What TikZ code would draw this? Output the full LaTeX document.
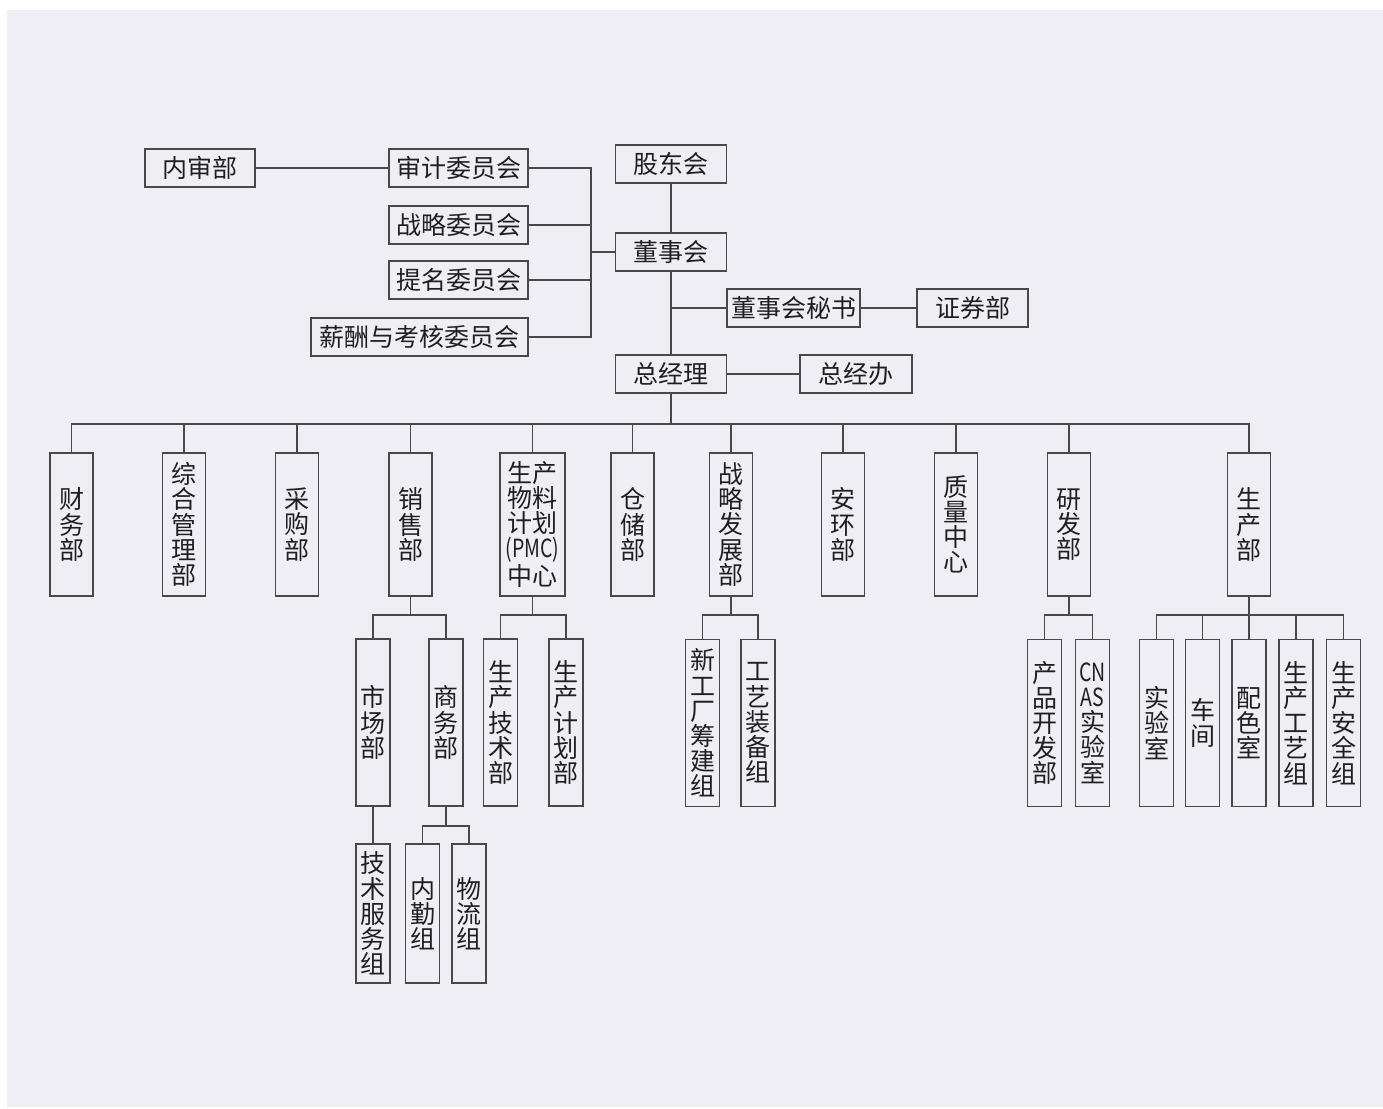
\documentclass[tikz,border=0pt]{standalone}
\usepackage{fontspec}
\setmainfont{Noto Sans CJK SC}
\usepackage{graphicx}
\usetikzlibrary{positioning}
\definecolor{bg}{RGB}{240,238,245}
\definecolor{linegray}{RGB}{72,72,72}
\newcommand{\narrow}[1]{\scalebox{0.78}[1]{#1}}
\tikzstyle{org}=[
  x=0.5pt,y=-0.5pt,font=\fontsize{12.5}{12.6}\selectfont,text=black!88
]
\tikzstyle{box}=[
  draw=linegray,line width=0.75pt,fill=bg,inner sep=0pt,align=center
]
\tikzstyle{hbox}=[
  box,minimum height=19pt
]
\tikzstyle{dept}=[
  box,minimum width=21.5pt,minimum height=71.5pt
]
\tikzstyle{subdept}=[
  box,minimum width=17pt,minimum height=83.5pt
]
\tikzstyle{team}=[
  box,minimum width=17pt,minimum height=69.5pt
]
\tikzstyle{link}=[
  draw=linegray,line width=0.75pt
]

\begin{document}
\begin{tikzpicture}[org]
  \useasboundingbox (0,0) rectangle (1383,1109);
  \fill [white] (0,0) rectangle (1383,1109);
  \fill [bg] (7,10) rectangle (1383,1107);

  % board and committees
  \node (gdh) at (671,164) [hbox,minimum width=55.5pt] {股东会};
  \node (dsh) at (671,252) [hbox,minimum width=55.5pt] {董事会};
  \node (dms) at (793.5,308) [hbox,minimum width=66.5pt] {董事会秘书};
  \node (zqb) at (972.5,308) [hbox,minimum width=55.5pt] {证券部};
  \node (zjl) at (671,374) [hbox,minimum width=55.5pt] {总经理};
  \node (zjb) at (856,374) [hbox,minimum width=56pt] {总经办};
  \node (nsb) at (200,168) [hbox,minimum width=55pt] {内审部};
  \node (sjw) at (458.5,168) [hbox,minimum width=69.5pt] {审计委员会};
  \node (zlw) at (458.5,225) [hbox,minimum width=69.5pt] {战略委员会};
  \node (tmw) at (458.5,280) [hbox,minimum width=69.5pt] {提名委员会};
  \node (xcw) at (419.5,337) [hbox,minimum width=108.5pt] {薪酬与考核委员会};

  % departments
  \node (cwb) at (71.5,524.5) [dept] {财\\务\\部};
  \node (zhb) at (184,524.5) [dept] {综\\合\\管\\理\\部};
  \node (cgb) at (297,524.5) [dept] {采\\购\\部};
  \node (xsb) at (410.5,524.5) [dept] {销\\售\\部};
  \node (pmc) at (532.5,524.5) [dept,minimum width=32.5pt] {生产\\物料\\计划\\\narrow{(PMC)}\\中心};
  \node (ccb) at (632.5,524.5) [dept] {仓\\储\\部};
  \node (zfb) at (731,524.5) [dept] {战\\略\\发\\展\\部};
  \node (ahb) at (843,524.5) [dept] {安\\环\\部};
  \node (zlzx) at (956,524.5) [dept] {质\\量\\中\\心};
  \node (yfb) at (1069,524.5) [dept] {研\\发\\部};
  \node (scb) at (1249,524.5) [dept] {生\\产\\部};

  % sub departments
  \node (sch) at (373,722.5) [subdept] {市\\场\\部};
  \node (swu) at (446,722.5) [subdept] {商\\务\\部};
  \node (jsb) at (500.5,722.5) [subdept] {生\\产\\技\\术\\部};
  \node (jhb) at (566,722.5) [subdept] {生\\产\\计\\划\\部};
  \node (xgc) at (702.5,723) [subdept] {新\\工\\厂\\筹\\建\\组};
  \node (gyzb) at (758,723) [subdept] {工\\艺\\装\\备\\组};
  \node (cpk) at (1044.5,723) [subdept] {产\\品\\开\\发\\部};
  \node (cnas) at (1092.5,723) [subdept] {\narrow{CN}\\\narrow{AS}\\实\\验\\室};
  \node (sys) at (1156.5,723) [subdept] {实\\验\\室};
  \node (cj) at (1202.5,723) [subdept] {车\\间};
  \node (psh) at (1249,723) [subdept] {配\\色\\室};
  \node (gyz) at (1296,723) [subdept] {生\\产\\工\\艺\\组};
  \node (aqz) at (1343.5,723) [subdept] {生\\产\\安\\全\\组};

  % teams
  \node (jfz) at (373,913.5) [team] {技\\术\\服\\务\\组};
  \node (nqz) at (422.5,913.5) [team] {内\\勤\\组};
  \node (wlz) at (469,913.5) [team] {物\\流\\组};

  % connectors
  \coordinate (wyj) at (591,252);
  \foreach \c in {sjw,zlw,tmw,xcw}
    \draw [link] (\c.east) -| (wyj);
  \draw [link] (wyj) -- (dsh.west);
  \draw [link] (nsb) -- (sjw);
  \draw [link] (gdh) -- (dsh);
  \draw [link] (dsh) -- (zjl);
  \coordinate (msj) at (671,308);
  \draw [link] (msj) -- (dms.west);
  \draw [link] (dms) -- (zqb);
  \draw [link] (zjl) -- (zjb);

  \coordinate (bus) at (671,424);
  \draw [link] (zjl.south) -- (bus);
  \foreach \c in {cwb,zhb,cgb,xsb,pmc,ccb,zfb,ahb,zlzx,yfb,scb}
    \draw [link] (\c.north) |- (bus);

  \coordinate (xsbus) at (410.5,615);
  \draw [link] (xsb.south) -- (xsbus);
  \foreach \c in {sch,swu}
    \draw [link] (\c.north) |- (xsbus);
  \coordinate (pmcbus) at (532.5,615);
  \draw [link] (pmc.south) -- (pmcbus);
  \foreach \c in {jsb,jhb}
    \draw [link] (\c.north) |- (pmcbus);
  \coordinate (zfbus) at (731,615);
  \draw [link] (zfb.south) -- (zfbus);
  \foreach \c in {xgc,gyzb}
    \draw [link] (\c.north) |- (zfbus);
  \coordinate (yfbus) at (1069,615);
  \draw [link] (yfb.south) -- (yfbus);
  \foreach \c in {cpk,cnas}
    \draw [link] (\c.north) |- (yfbus);
  \coordinate (scbus) at (1249,615);
  \draw [link] (scb.south) -- (scbus);
  \foreach \c in {sys,cj,psh,gyz,aqz}
    \draw [link] (\c.north) |- (scbus);

  \draw [link] (sch) -- (jfz);
  \coordinate (swbus) at (446,826);
  \draw [link] (swu.south) -- (swbus);
  \foreach \c in {nqz,wlz}
    \draw [link] (\c.north) |- (swbus);
\end{tikzpicture}
\end{document}
